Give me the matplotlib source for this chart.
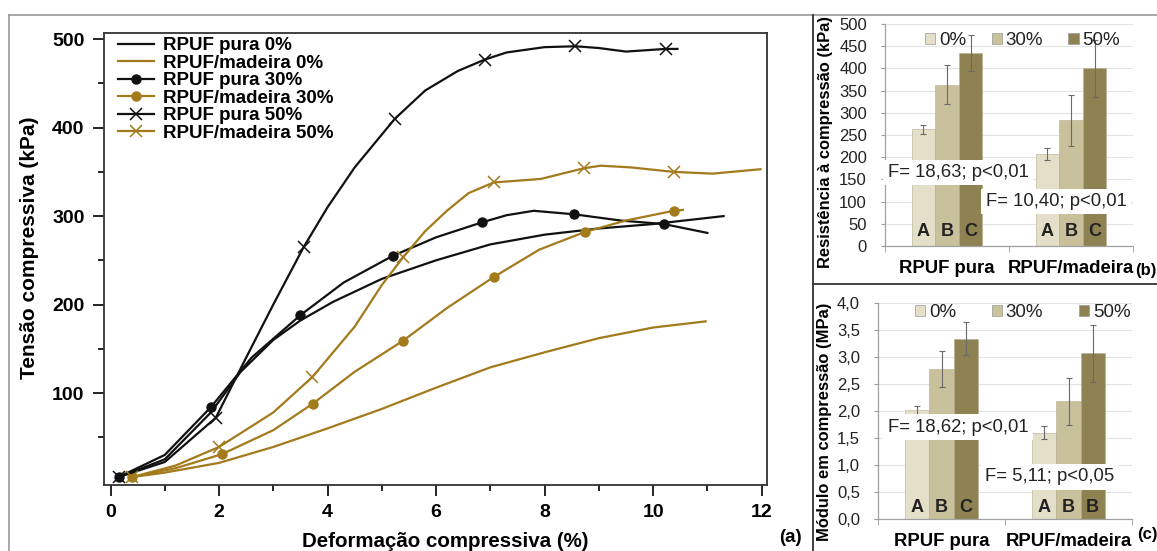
import numpy as np
import matplotlib
matplotlib.use('Agg')
import matplotlib.pyplot as plt
from matplotlib.lines import Line2D
from matplotlib.patches import Patch

plt.rcParams['font.family'] = ['Liberation Sans', 'DejaVu Sans']

# (a) curvas tensao x deformacao
eps_pura0 = [0.15, 1.0, 1.85, 2.4, 3.0, 3.5, 4.1, 5.0, 6.0, 7.0, 8.0, 9.0, 10.0, 11.3]
sig_pura0 = [5, 25, 78, 124, 160, 182, 203, 229, 250, 268, 279, 286, 291, 300]

eps_mad0 = [0.4, 1.0, 2.0, 3.0, 4.0, 5.0, 6.0, 7.0, 8.0, 9.0, 10.0, 10.97]
sig_mad0 = [5, 10, 21, 39, 60, 82, 106, 129, 146, 162, 174, 181]

eps_pura30 = [0.15, 1.0, 1.85, 2.6, 3.5, 4.3, 5.2, 6.0, 6.85, 7.3, 7.8, 8.55, 9.4, 10.2, 11.0]
sig_pura30 = [5, 30, 84, 140, 188, 225, 255, 276, 293, 301, 306, 302, 295, 291, 281]
mk_pura30 = [0, 2, 4, 6, 8, 11, 13]

eps_mad30 = [0.4, 1.2, 2.06, 3.0, 3.73, 4.5, 5.39, 6.2, 7.06, 7.9, 8.74, 9.5, 10.38, 10.55]
sig_mad30 = [5, 15, 31, 58, 88, 124, 159, 196, 231, 262, 282, 295, 306, 307]
mk_mad30 = [0, 2, 4, 6, 8, 10, 12]

eps_pura50 = [0.15, 1.0, 1.94, 2.5, 3.0, 3.56, 4.0, 4.5, 5.24, 5.8, 6.4, 6.9, 7.3, 8.0, 8.57, 9.0, 9.5, 10.23, 10.45]
sig_pura50 = [5, 22, 72, 140, 200, 265, 310, 355, 410, 442, 464, 477, 485, 491, 492, 490, 486, 489, 489]
mk_pura50 = [0, 2, 5, 8, 11, 14, 17]

eps_mad50 = [0.4, 1.2, 2.0, 3.0, 3.72, 4.5, 5.0, 5.4, 5.8, 6.2, 6.6, 7.06, 7.93, 8.72, 9.03, 9.6, 10.38, 11.1, 11.98]
sig_mad50 = [5, 18, 39, 78, 118, 175, 222, 254, 283, 306, 326, 338, 342, 354, 357, 355, 350, 348, 353]
mk_mad50 = [0, 2, 4, 7, 11, 13, 16]

# (b) e (c) barras
grupos = ['RPUF pura', 'RPUF/madeira']
teores = ['0%', '30%', '50%']
res_0 = [263, 207]
res_30 = [363, 283]
res_50 = [435, 400]
res_err_0 = [10, 14]
res_err_30 = [44, 58]
res_err_50 = [41, 64]
mod_0 = [2.02, 1.60]
mod_30 = [2.78, 2.18]
mod_50 = [3.34, 3.07]
mod_err_0 = [0.08, 0.115]
mod_err_30 = [0.34, 0.44]
mod_err_50 = [0.31, 0.53]
letras_res = [['A', 'B', 'C'], ['A', 'B', 'C']]
letras_mod = [['A', 'B', 'C'], ['A', 'B', 'B']]
stat_res = ['F= 18,63; p<0,01', 'F= 10,40; p<0,01']
stat_mod = ['F= 18,62; p<0,01', 'F= 5,11; p<0,05']
res_ticks = [0, 50, 100, 150, 200, 250, 300, 350, 400, 450, 500]
mod_ticks = [0.0, 0.5, 1.0, 1.5, 2.0, 2.5, 3.0, 3.5, 4.0]

PRETO = '#111111'
MARROM = '#a37a1c'
cores_bar = ['#e4dfc8', '#c9c09c', '#8e8252']

W, H = 1157, 551
fig = plt.figure(figsize=(W / 100, H / 100), dpi=100)


def px_axes(l, t, r, b):
    return fig.add_axes([l / W, 1 - b / H, (r - l) / W, (b - t) / H])


# molduras
fig.add_artist(Line2D([9 / W, 1], [1 - 15 / H] * 2, color='#9a9a9a', lw=1.2))
fig.add_artist(Line2D([9 / W] * 2, [0, 1 - 15 / H], color='#9a9a9a', lw=1.2))
fig.add_artist(Line2D([813 / W] * 2, [0, 1 - 15 / H], color='#333333', lw=1.3))
fig.add_artist(Line2D([813 / W, 1], [1 - 284 / H] * 2, color='#333333', lw=1.3))

# ---- (a)
ax = px_axes(104, 33, 767, 485)
kw = dict(lw=1.6)
ax.plot(eps_pura0, sig_pura0, color=PRETO, label='RPUF pura 0%', **kw)
ax.plot(eps_mad0, sig_mad0, color=MARROM, label='RPUF/madeira 0%', **kw)
ax.plot(eps_pura30, sig_pura30, color=PRETO, marker='o', ms=6.5, markevery=mk_pura30,
        label='RPUF pura 30%', **kw)
ax.plot(eps_mad30, sig_mad30, color=MARROM, marker='o', ms=6.5, markevery=mk_mad30,
        label='RPUF/madeira 30%', **kw)
ax.plot(eps_pura50, sig_pura50, color=PRETO, marker='x', ms=8, mew=1.1, markevery=mk_pura50,
        label='RPUF pura 50%', **kw)
ax.plot(eps_mad50, sig_mad50, color=MARROM, marker='x', ms=8, mew=1.1, markevery=mk_mad50,
        label='RPUF/madeira 50%', **kw)
ax.set_xlim(-0.12, 12.1)
ax.set_ylim(-4, 507)
ax.set_xticks(range(0, 13, 2))
ax.set_xticks(range(1, 12, 2), minor=True)
ax.set_yticks([100, 200, 300, 400, 500])
ax.set_yticks([50, 150, 250, 350, 450], minor=True)
ax.tick_params(which='major', direction='out', length=8, width=1.2, labelsize=14, pad=6)
ax.tick_params(which='minor', direction='out', length=4.5, width=1.2)
for t in ax.get_xticklabels() + ax.get_yticklabels():
    t.set_fontweight('bold')
for s in ax.spines.values():
    s.set_linewidth(1.3)
    s.set_color('#333333')
ax.set_xlabel('Deformação compressiva (%)', fontsize=14.8, fontweight='bold')
ax.xaxis.set_label_coords(0.515, -0.105)
ax.set_ylabel('Tensão compressiva (kPa)', fontsize=15, fontweight='bold')
ax.yaxis.set_label_coords(-0.098, 0.524)
ax.legend(loc='upper left', frameon=False, prop={'weight': 'bold', 'size': 13.5},
          handlelength=1.9, labelspacing=0.02, borderaxespad=0, borderpad=0.4, handletextpad=0.5,
          bbox_to_anchor=(0.0098, 1.0077))
fig.text(790 / W, 1 - 537 / H, '(a)', fontsize=13.5, fontweight='bold', ha='center', va='center')


def barras(ax, m0, m30, m50, e0, e30, e50, letras, stats, stat_pos, ticks, labels, ylim, ylabel,
           let_y, leg_x, leg_y, colspace):
    x = np.arange(len(grupos))
    w = 0.19
    medias = [m0, m30, m50]
    erros = [e0, e30, e50]
    for i in range(3):
        ax.bar(x + (i - 1) * w, medias[i], w, color=cores_bar[i], edgecolor='#b5ad90', lw=0.4,
               yerr=erros[i], error_kw=dict(ecolor='#6a6a6a', elinewidth=0.8, capsize=2, capthick=0.8),
               zorder=2, label=teores[i])
        for g in range(len(grupos)):
            ax.text(x[g] + (i - 1) * w, let_y, letras[g][i], ha='center', va='center',
                    fontsize=13, fontweight='bold', color='#222222', zorder=5)
    for g in range(len(grupos)):
        ax.text(stat_pos[g][0], stat_pos[g][1], stats[g], ha='center', va='center', fontsize=13.3,
                color='#222222', zorder=4,
                bbox=dict(facecolor='white', edgecolor='none', pad=3))
    ax.set_xlim(-0.5, 1.5)
    ax.set_ylim(*ylim)
    ax.set_yticks(ticks)
    ax.set_yticklabels(labels)
    ax.set_xticks(x)
    ax.set_xticklabels(grupos, fontweight='bold', fontsize=13.3)
    ax.set_xticks([-0.5, 0.5, 1.5], minor=True)
    ax.tick_params(axis='x', which='major', length=0, pad=10)
    ax.tick_params(axis='x', which='minor', length=4, color='#999999', direction='out')
    ax.tick_params(axis='y', length=3, color='#999999', labelsize=12, labelcolor='#222222', pad=10)
    ax.grid(axis='y', color='#e3e3e3', lw=0.8, zorder=0)
    ax.set_axisbelow(True)
    for s in ['top', 'right']:
        ax.spines[s].set_visible(False)
    for s in ['left', 'bottom']:
        ax.spines[s].set_color('#a0a0a0')
        ax.spines[s].set_linewidth(0.9)
    ax.set_ylabel(ylabel, fontsize=11.9, fontweight='bold')
    ax.legend(handles=[Patch(facecolor=cores_bar[i], edgecolor='#999999', lw=0.5) for i in range(3)],
              labels=teores, ncol=3, frameon=False, loc='center', bbox_to_anchor=(leg_x, leg_y),
              fontsize=13.5, handlelength=0.55, handleheight=0.55, handletextpad=0.2,
              columnspacing=colspace, labelcolor='#222222')


# ---- (b)
axb = px_axes(885, 24, 1133, 246)
barras(axb, res_0, res_30, res_50, res_err_0, res_err_30, res_err_50, letras_res, stat_res,
       [(0.09, 165), (0.88, 100)], res_ticks, [str(v) for v in res_ticks], (0, 500),
       'Resistência à compressão (kPa)', 33, 0.555, 0.925, 1.35)
axb.yaxis.set_label_coords(-0.21, 0.47)
fig.text(1146 / W, 1 - 271 / H, '(b)', fontsize=12, fontweight='bold', ha='center', va='center')

# ---- (c)
axc = px_axes(878, 303, 1132, 519)
barras(axc, mod_0, mod_30, mod_50, mod_err_0, mod_err_30, mod_err_50, letras_mod, stat_mod,
       [(0.13, 1.70), (0.85, 0.78)], mod_ticks, [f'{v:.1f}'.replace('.', ',') for v in mod_ticks],
       (0, 4.0), 'Módulo em compressão (MPa)', 0.22, 0.57, 0.955, 1.9)
axc.yaxis.set_label_coords(-0.18, 0.45)
fig.text(1147 / W, 1 - 535 / H, '(c)', fontsize=12, fontweight='bold', ha='center', va='center')

fig.savefig('out.png', dpi=100)
